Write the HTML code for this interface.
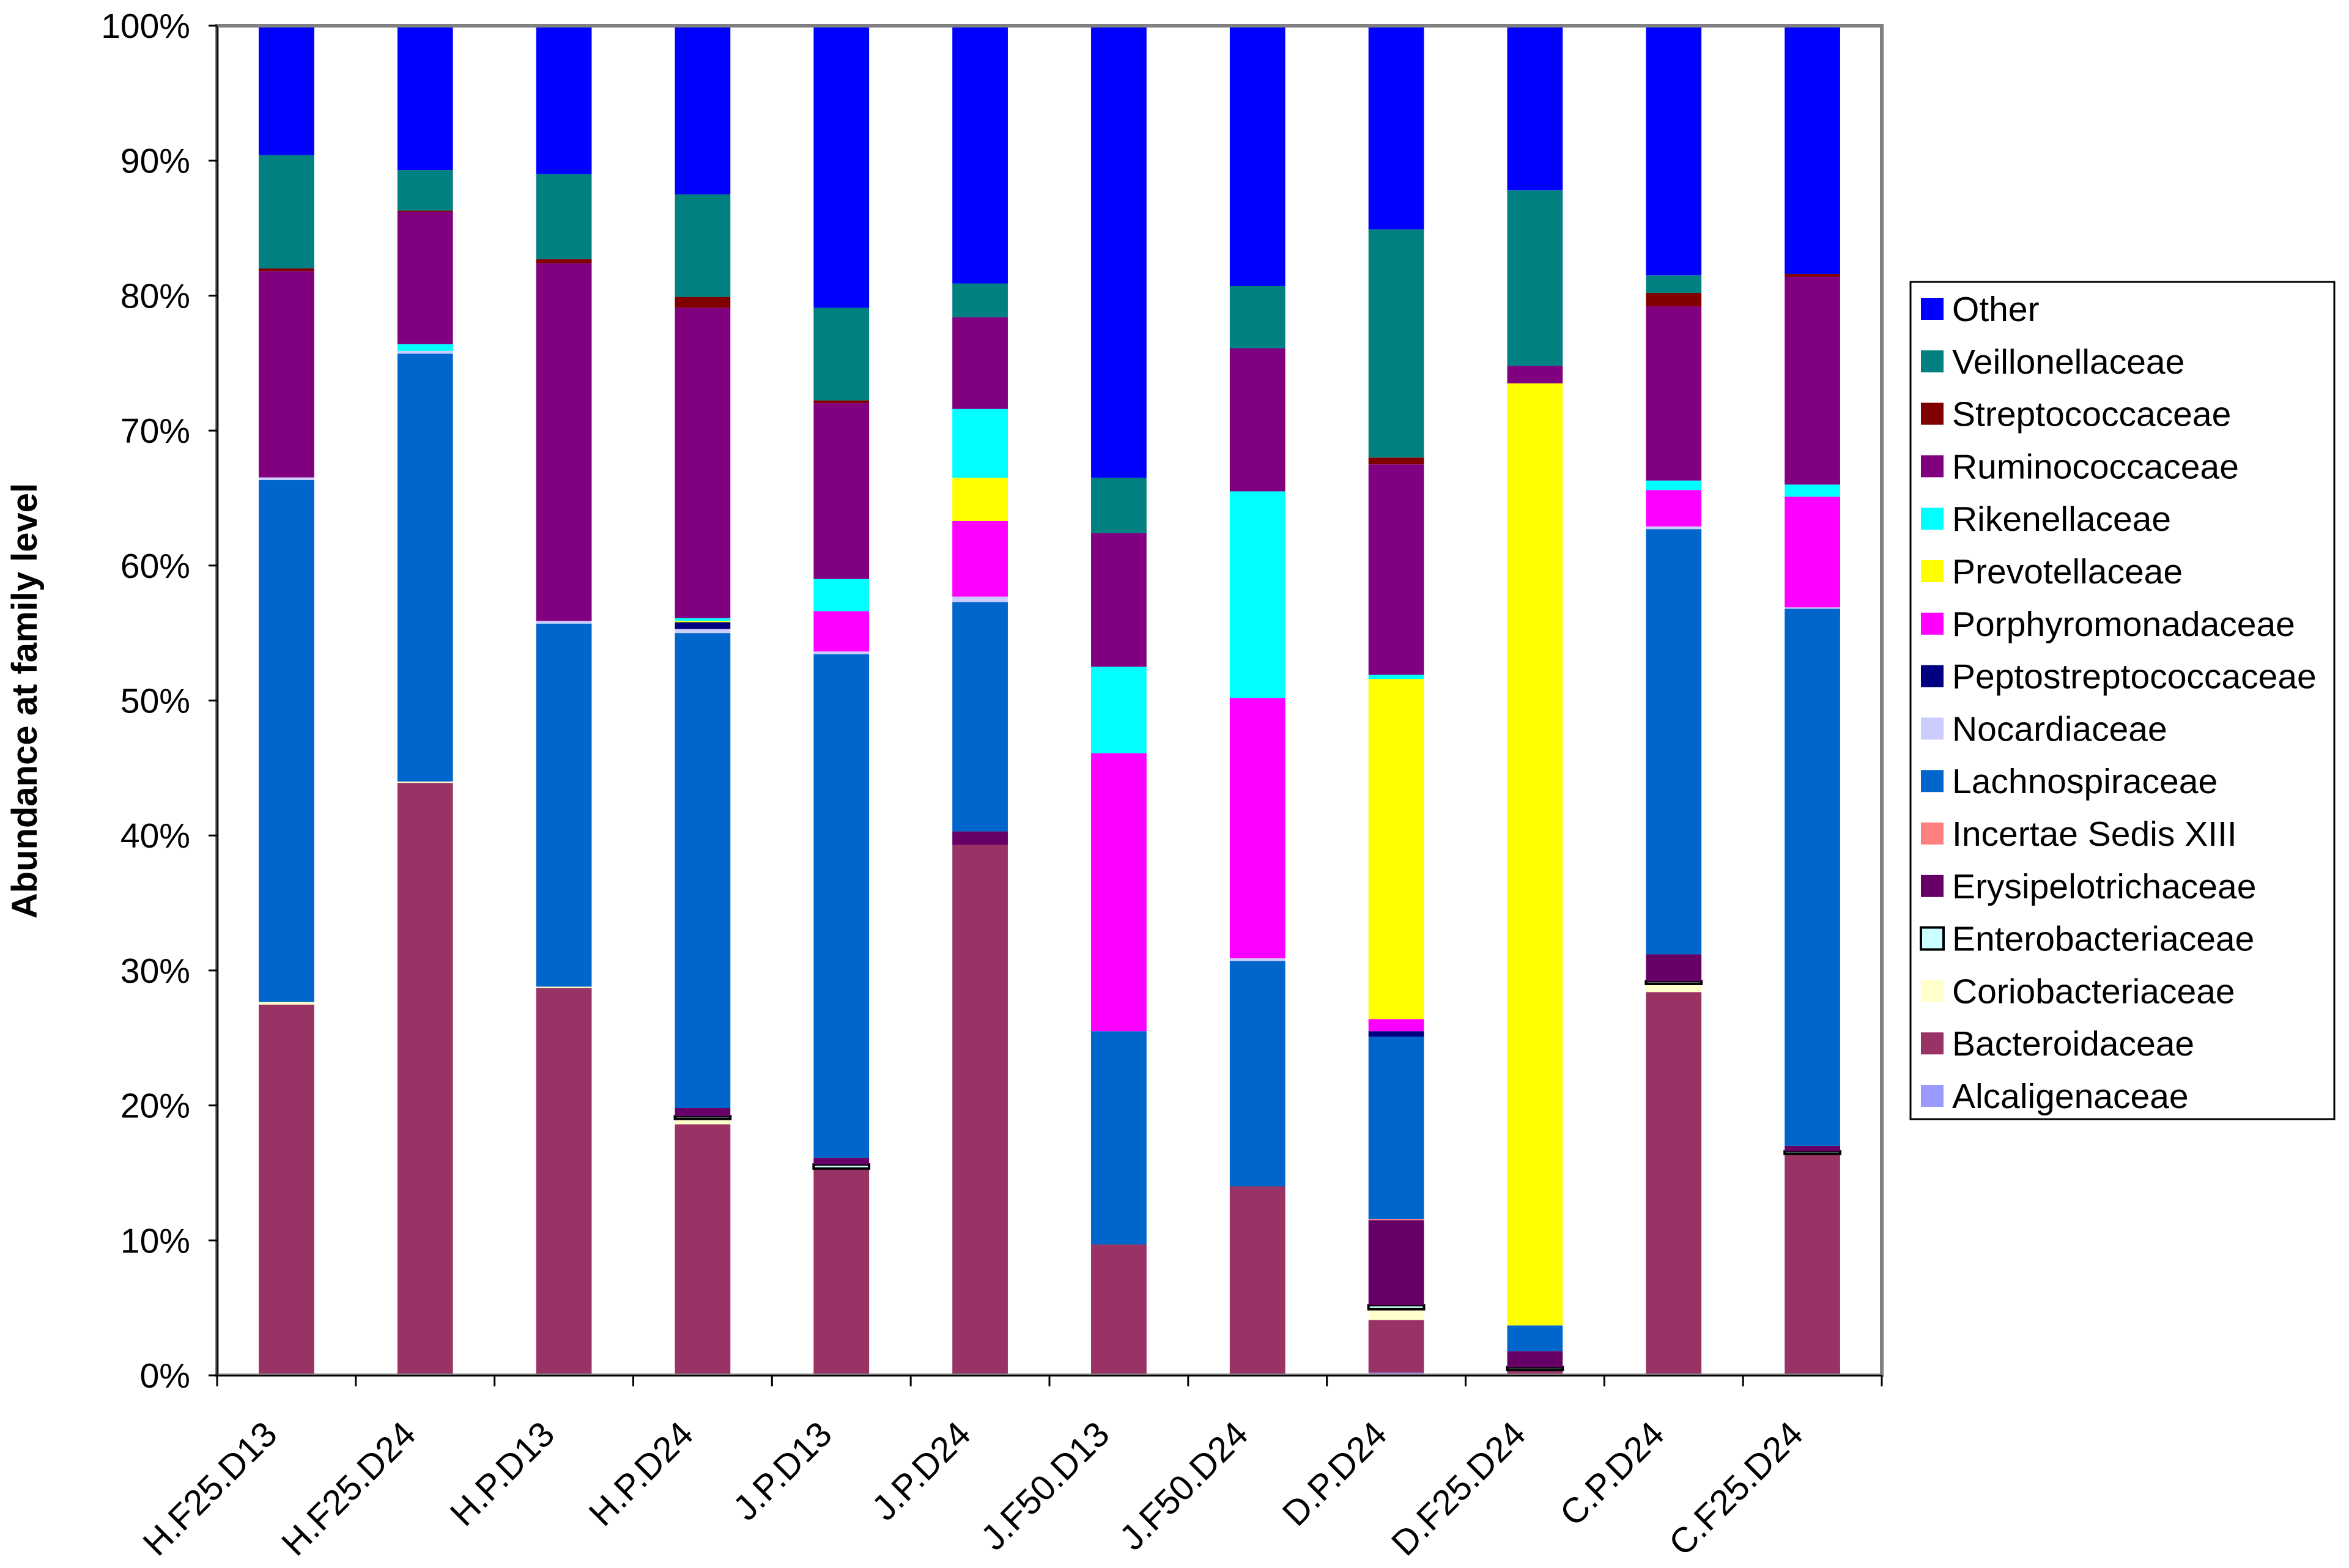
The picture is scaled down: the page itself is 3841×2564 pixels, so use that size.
<!DOCTYPE html>
<html><head><meta charset="utf-8">
<style>
html,body{margin:0;padding:0;background:#fff;}
svg{display:block;font-family:"Liberation Sans",Arial,sans-serif;}
</style></head>
<body>
<svg id="chart" width="3841" height="2564" viewBox="0 0 3841 2564" xmlns="http://www.w3.org/2000/svg">
<rect x="0" y="0" width="3841" height="2564" fill="#fff"/>
<g id="plot"></g>
<text x="0" y="0" transform="translate(60,1146) rotate(-90)" text-anchor="middle" font-size="58" font-weight="bold">Abundance at family level</text>
<g id="legend"></g>
</svg>
<script>
const categories = ["H.F25.D13","H.F25.D24","H.P.D13","H.P.D24","J.P.D13","J.P.D24","J.F50.D13","J.F50.D24","D.P.D24","D.F25.D24","C.P.D24","C.F25.D24"];
const seriesNames = ["Alcaligenaceae","Bacteroidaceae","Coriobacteriaceae","Enterobacteriaceae","Erysipelotrichaceae","Incertae Sedis XIII","Lachnospiraceae","Nocardiaceae","Peptostreptococcaceae","Porphyromonadaceae","Prevotellaceae","Rikenellaceae","Ruminococcaceae","Streptococcaceae","Veillonellaceae","Other"];
const seriesColors = ["#9999FF","#993366","#FFFFCC","#CCFFFF","#660066","#FF8080","#0066CC","#CCCCFF","#000080","#FF00FF","#FFFF00","#00FFFF","#800080","#800000","#008080","#0000FF"];
const alcaligenaceae     = [0,0,0,0,0,0,0,0,0.2,0.1,0,0];
const bacteroidaceae     = [27.5,43.9,28.7,18.6,15.4,39.3,9.7,14.0,3.9,0.3,28.4,16.4];
const coriobacteriaceae  = [0.2,0.1,0.1,0.4,0,0,0,0,0.8,0,0.6,0];
const enterobacteriaceae = [0,0,0,0.2,0.3,0,0,0,0.3,0.2,0.2,0.2];
const erysipelotrichaceae= [0,0,0,0.6,0.5,1.0,0,0,6.3,1.2,2.0,0.4];
const incertaeSedis      = [0,0,0,0,0,0,0,0,0.1,0,0,0];
const lachnospiraceae    = [38.7,31.7,26.9,35.2,37.5,17.0,15.8,16.7,13.5,1.9,31.5,39.8];
const nocardiaceae       = [0.2,0.2,0.2,0.3,0.2,0.4,0,0.2,0,0,0.2,0.1];
const peptostreptococcaceae=[0,0,0,0.5,0,0,0,0,0.4,0,0,0];
const porphyromonadaceae = [0,0,0,0,3.0,5.6,20.6,19.3,0.9,0,2.7,8.2];
const prevotellaceae     = [0,0,0,0.1,0,3.2,0,0,25.2,69.8,0,0];
const rikenellaceae      = [0,0.5,0,0.2,2.4,5.1,6.4,15.3,0.3,0,0.7,0.9];
const ruminococcaceae    = [15.3,9.8,26.5,23.0,13.1,6.8,9.9,10.6,15.6,1.3,12.9,15.4];
const streptococcaceae   = [0.2,0.1,0.3,0.8,0.2,0,0,0,0.5,0,1.0,0.2];
const veillonellaceae    = [8.4,3.0,6.3,7.6,6.9,2.5,4.1,4.6,16.9,13.0,1.3,0];
const other              = [9.6,10.7,11.0,12.5,21.0,19.1,33.5,19.3,15.1,12.2,18.5,18.4];
const seriesValues = [alcaligenaceae,bacteroidaceae,coriobacteriaceae,enterobacteriaceae,erysipelotrichaceae,incertaeSedis,lachnospiraceae,nocardiaceae,peptostreptococcaceae,porphyromonadaceae,prevotellaceae,rikenellaceae,ruminococcaceae,streptococcaceae,veillonellaceae,other];
const yTicks = [0,10,20,30,40,50,60,70,80,90,100];
const yTickLabels = ["0%","10%","20%","30%","40%","50%","60%","70%","80%","90%","100%"];

const NS="http://www.w3.org/2000/svg";
const L=355,R=3077,T=42,B=2249;
const yScale=v=>B-(v/100)*(B-T);
const band=(R-L)/categories.length;
const xCenter=i=>L+band*(i+0.5);
const barW=band*0.40;
const plot=document.getElementById('plot');
function mk(tag,attrs,parent){const e=document.createElementNS(NS,tag);for(const k in attrs)e.setAttribute(k,attrs[k]);parent.appendChild(e);return e;}

categories.forEach((c,i)=>{
  const g=mk('g',{},plot);
  
  
  let total=0;
  seriesValues.forEach(s=>total+=s[i]);
  let cum=0;
  seriesValues.forEach((s,k)=>{
    const v=s[i]/total*100;
    if(v<=0){return;}
    const y0=yScale(cum),y1=yScale(cum+v);
    const r=mk('rect',{x:xCenter(i)-barW/2,y:y1,width:barW,height:Math.max(y0-y1,1),fill:seriesColors[k]},g);
    if(k===3){r.setAttribute('stroke','#000');r.setAttribute('stroke-width','4');}
    
    
    cum+=v;
  });
});

const fr=mk('rect',{x:L,y:T,width:R-L,height:B-T,fill:'none',stroke:'#808080','stroke-width':6},plot);


const ya=mk('line',{x1:L,y1:T,x2:L,y2:B,stroke:'#000','stroke-width':2},plot);


const xa=mk('line',{x1:L,y1:B,x2:R,y2:B,stroke:'#000','stroke-width':2},plot);



yTicks.forEach((t,j)=>{
  const y=yScale(t);
  const tk=mk('line',{x1:L-14,y1:y,x2:L,y2:y,stroke:'#000','stroke-width':3},plot);
  
  
  const tx=mk('text',{x:L-44,y:y+20,'text-anchor':'end','font-size':57},plot);
  tx.textContent=yTickLabels[j];
  
  
});
for(let i=0;i<=categories.length;i++){
  const x=L+band*i;
  const tk=mk('line',{x1:x,y1:B,x2:x,y2:B+18,stroke:'#000','stroke-width':3},plot);
  
  
}
categories.forEach((c,i)=>{
  const x=xCenter(i)-12,y=B+100;
  const tx=mk('text',{x:0,y:0,'text-anchor':'end','font-size':58,transform:`translate(${x},${y}) rotate(-45)`},plot);
  tx.textContent=c;
  
  
});

const lg=document.getElementById('legend');
const lb=mk('rect',{x:3124,y:461,width:693,height:1369,fill:'#fff',stroke:'#000','stroke-width':3},lg);


for(let k=seriesNames.length-1,row=0;k>=0;k--,row++){
  const cy=505+row*85.8;
  const g=mk('g',{},lg);
  
  
  const sw=mk('rect',{x:3141,y:cy-18,width:37,height:36,fill:seriesColors[k]},g);
  if(k===3){sw.setAttribute('stroke','#000');sw.setAttribute('stroke-width','4');}
  
  
  const tx=mk('text',{x:3192,y:cy+20,'font-size':57},g);
  tx.textContent=seriesNames[k];
  
  
}
</script>
</body></html>
